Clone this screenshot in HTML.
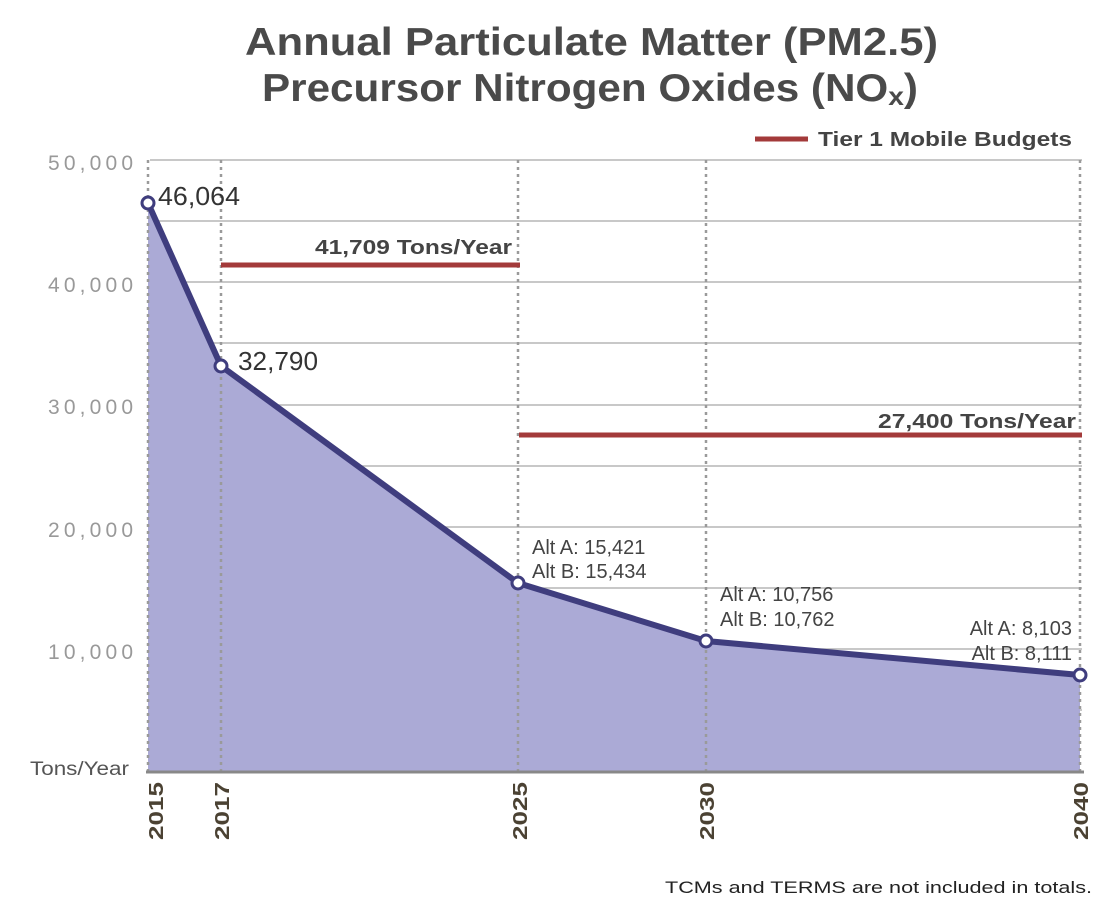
<!DOCTYPE html>
<html><head><meta charset="utf-8"><style>
html,body{margin:0;padding:0;background:#fff;}
svg{display:block;font-family:"Liberation Sans",sans-serif;}
</style></head><body>
<svg width="1100" height="921" viewBox="0 0 1100 921">
<text x="245" y="55" font-size="39" font-weight="bold" fill="#4a4a4a" textLength="693" lengthAdjust="spacingAndGlyphs">Annual Particulate Matter (PM2.5)</text>
<text x="262" y="101" font-size="39" font-weight="bold" fill="#4a4a4a" textLength="656" lengthAdjust="spacingAndGlyphs">Precursor Nitrogen Oxides (NO<tspan font-size="26" dy="4">x</tspan><tspan dy="-4">)</tspan></text>
<line x1="755" y1="139" x2="808" y2="139" stroke="#a33a3a" stroke-width="5"/>
<text x="818" y="146" font-size="20" font-weight="bold" fill="#444" textLength="254" lengthAdjust="spacingAndGlyphs">Tier 1 Mobile Budgets</text>
<g stroke="#b5b5b5" stroke-width="1.5">
<line x1="150" y1="160" x2="1082" y2="160"/><line x1="150" y1="221" x2="1082" y2="221"/>
<line x1="150" y1="282" x2="1082" y2="282"/><line x1="150" y1="343" x2="1082" y2="343"/>
<line x1="150" y1="405" x2="1082" y2="405"/><line x1="150" y1="466" x2="1082" y2="466"/>
<line x1="150" y1="527" x2="1082" y2="527"/><line x1="150" y1="588" x2="1082" y2="588"/>
<line x1="150" y1="649" x2="1082" y2="649"/><line x1="150" y1="710" x2="1082" y2="710"/>
</g>
<polygon points="148,203 221,366 518,583 706,641 1080,675 1080,772 148,772" fill="#abaad6"/>
<g stroke="#9a9a9a" stroke-width="2.5" stroke-dasharray="3,4">
<line x1="148" y1="160" x2="148" y2="772"/><line x1="221" y1="160" x2="221" y2="772"/>
<line x1="518" y1="160" x2="518" y2="772"/><line x1="706" y1="160" x2="706" y2="772"/>
<line x1="1080" y1="160" x2="1080" y2="772"/>
</g>
<line x1="146" y1="772" x2="1084" y2="772" stroke="#888" stroke-width="3"/>
<line x1="221" y1="265" x2="520" y2="265" stroke="#a33a3a" stroke-width="5"/>
<line x1="519" y1="435" x2="1082" y2="435" stroke="#a33a3a" stroke-width="5"/>
<text x="315" y="254" font-size="20" font-weight="bold" fill="#444" textLength="197" lengthAdjust="spacingAndGlyphs">41,709 Tons/Year</text>
<text x="878" y="428" font-size="20" font-weight="bold" fill="#444" textLength="198" lengthAdjust="spacingAndGlyphs">27,400 Tons/Year</text>
<polyline points="148,203 221,366 518,583 706,641 1080,675" fill="none" stroke="#3f3d7e" stroke-width="6" stroke-linejoin="round"/>
<g fill="#fff" stroke="#3f3d7e" stroke-width="3">
<circle cx="148" cy="203" r="6"/><circle cx="221" cy="366" r="6"/><circle cx="518" cy="583" r="6"/>
<circle cx="706" cy="641" r="6"/><circle cx="1080" cy="675" r="6"/>
</g>
<g fill="#999" font-size="21" lengthAdjust="spacingAndGlyphs">
<text x="48" y="170" textLength="85">50,000</text><text x="48" y="292" textLength="85">40,000</text>
<text x="48" y="414" textLength="85">30,000</text><text x="48" y="537" textLength="85">20,000</text>
<text x="48" y="659" textLength="85">10,000</text>
</g>
<text x="30" y="775" font-size="19" fill="#555" textLength="99" lengthAdjust="spacingAndGlyphs">Tons/Year</text>
<g fill="#333" font-size="26">
<text x="158" y="205" textLength="82" lengthAdjust="spacingAndGlyphs">46,064</text><text x="238" y="370" textLength="80" lengthAdjust="spacingAndGlyphs">32,790</text>
</g>
<g fill="#444" font-size="20">
<text x="532" y="554">Alt A: 15,421</text><text x="532" y="578">Alt B: 15,434</text>
<text x="720" y="601">Alt A: 10,756</text><text x="720" y="626">Alt B: 10,762</text>
<text x="1072" y="635" text-anchor="end">Alt A: 8,103</text><text x="1072" y="660" text-anchor="end">Alt B: 8,111</text>
</g>
<g fill="#4b4233" font-size="20" font-weight="bold">
<text transform="translate(163,840) rotate(-90)" textLength="58" lengthAdjust="spacingAndGlyphs">2015</text>
<text transform="translate(229,840) rotate(-90)" textLength="58" lengthAdjust="spacingAndGlyphs">2017</text>
<text transform="translate(527,840) rotate(-90)" textLength="58" lengthAdjust="spacingAndGlyphs">2025</text>
<text transform="translate(714,840) rotate(-90)" textLength="58" lengthAdjust="spacingAndGlyphs">2030</text>
<text transform="translate(1088,840) rotate(-90)" textLength="58" lengthAdjust="spacingAndGlyphs">2040</text>
</g>
<text x="665" y="893" font-size="17" fill="#222" textLength="427" lengthAdjust="spacingAndGlyphs">TCMs and TERMS are not included in totals.</text>
</svg>
</body></html>
